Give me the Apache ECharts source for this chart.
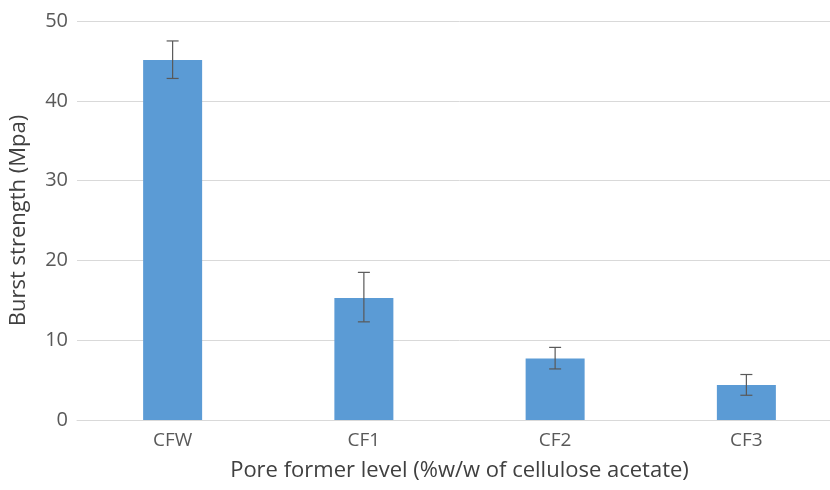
<!DOCTYPE html>
<html><head><meta charset="utf-8">
<script src="https://cdn.jsdelivr.net/npm/echarts@6/dist/echarts.min.js"></script>
<style>html,body{margin:0;padding:0;background:#fff;overflow:hidden}#c{width:850px;height:490px}</style>
</head><body><div id="c"></div>
<script>
var categories = ['CFW', 'CF1', 'CF2', 'CF3'];
var values = [45.1, 15.3, 7.7, 4.4];
var errLow = [42.8, 12.3, 6.4, 3.1];
var errHigh = [47.5, 18.5, 9.1, 5.7];
var yTicks = [0, 10, 20, 30, 40, 50];

var chart = echarts.init(document.getElementById('c'));
var font = 'Open Sans';
chart.setOption({
  animation: false,
  grid: { left: 77, top: 21, width: 765, height: 399 },
  xAxis: {
    type: 'category', data: categories,
    axisLine: { lineStyle: { color: '#d9d9d9' } },
    axisTick: { show: false },
    axisLabel: { color: '#595959', fontFamily: font, fontSize: 19, margin: 11 },
    name: 'Pore former level (%w/w of cellulose acetate)',
    nameLocation: 'middle', nameGap: 40,
    nameTextStyle: { color: '#404040', fontFamily: font, fontSize: 22 }
  },
  yAxis: {
    type: 'value', min: yTicks[0], max: yTicks[yTicks.length - 1], interval: 10,
    splitLine: { lineStyle: { color: '#d9d9d9' } },
    axisLine: { show: false }, axisTick: { show: false },
    axisLabel: { color: '#595959', fontFamily: font, fontSize: 20, margin: 9 },
    name: 'Burst strength (Mpa)', nameLocation: 'middle', nameGap: 47,
    nameTextStyle: { color: '#404040', fontFamily: font, fontSize: 22 }
  },
  series: [
    { type: 'bar', data: values, barWidth: 59, itemStyle: { color: '#5b9bd5' } },
    {
      type: 'custom',
      data: categories.map(function (c, i) { return [i, errLow[i], errHigh[i]]; }),
      renderItem: function (params, api) {
        var lo = api.coord([api.value(0), api.value(1)]);
        var hi = api.coord([api.value(0), api.value(2)]);
        var hw = 6;
        var st = { stroke: '#595959', lineWidth: 1.2 };
        return { type: 'group', children: [
          { type: 'line', shape: { x1: hi[0], y1: hi[1], x2: lo[0], y2: lo[1] }, style: st },
          { type: 'line', shape: { x1: hi[0] - hw, y1: hi[1], x2: hi[0] + hw, y2: hi[1] }, style: st },
          { type: 'line', shape: { x1: lo[0] - hw, y1: lo[1], x2: lo[0] + hw, y2: lo[1] }, style: st }
        ]};
      },
      z: 10
    }
  ]
});
</script></body></html>
